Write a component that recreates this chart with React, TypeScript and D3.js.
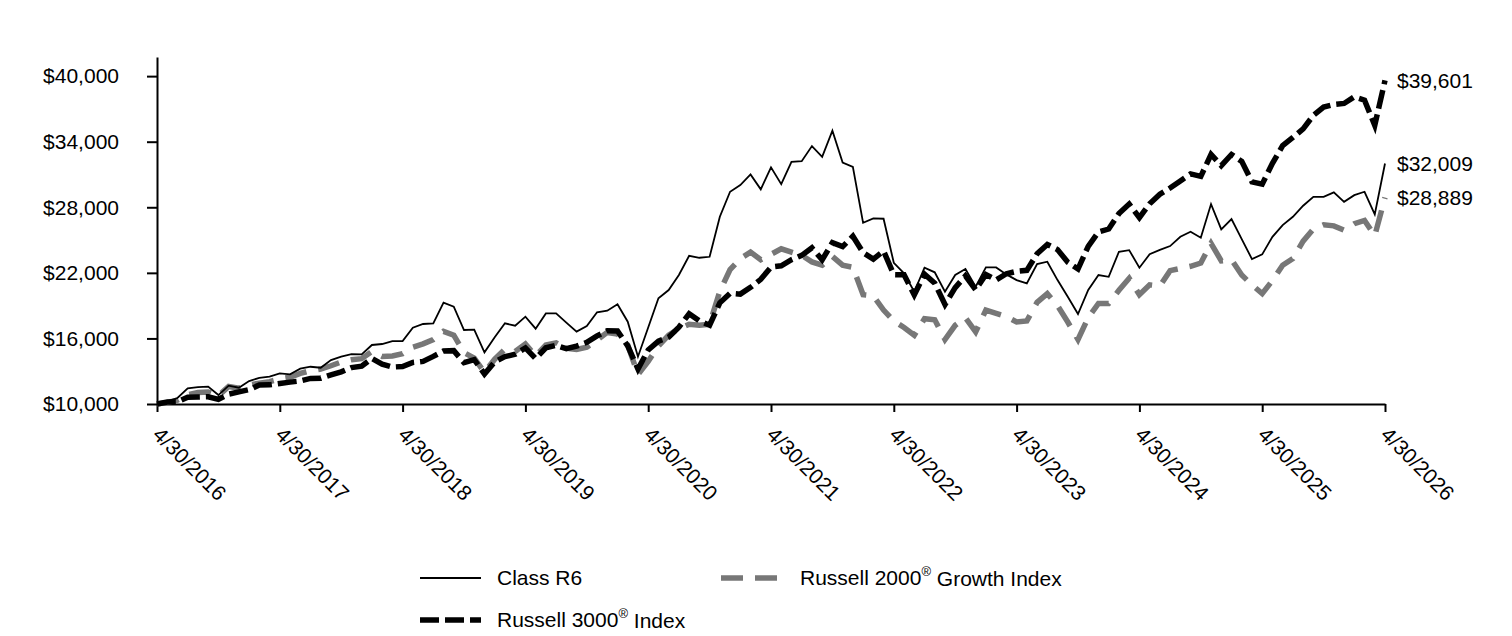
import React, { useEffect, useRef } from 'react';
import * as d3 from 'd3';

const WIDTH = 1512;
const HEIGHT = 636;
const margin = { top: 57, right: 127, bottom: 232, left: 157 };
const FONT = "'Liberation Sans', Arial, Helvetica, sans-serif";

// month-end values of a $10,000 investment, 4/30/2016 .. 4/30/2026
const classR6 = [
  10000, 10250, 10550, 11430, 11550, 11590, 10820, 11680, 11490, 12100, 12400, 12500,
  12800, 12710, 13230, 13410, 13320, 14020, 14330, 14570, 14540, 15400, 15490, 15760,
  15760, 16980, 17320, 17380, 19270, 18900, 16770, 16800, 14730, 16100, 17380, 17160,
  17990, 16890, 18290, 18290, 17440, 16620, 17130, 18390, 18540, 19120, 17530, 14330,
  17000, 19670, 20430, 21800, 23560, 23380, 23470, 27130, 29420, 30030, 31010, 29640,
  31650, 30120, 32160, 32220, 33600, 32620, 35000, 32100, 31700, 26580, 26980, 26950,
  22920, 21950, 20270, 22470, 22050, 20270, 21800, 22350, 20730, 22500, 22500, 21860,
  21340, 21040, 22800, 23020, 21340, 19810, 18230, 20430, 21800, 21640, 23930, 24080,
  22470, 23700, 24100, 24450, 25300, 25760, 25210, 28290, 25980, 26920, 25090, 23260,
  23690, 25300, 26370, 27130, 28140, 28960, 28960, 29360, 28500, 29110, 29420, 27350,
  32009,
];

const russell2000Growth = [
  10000, 10150, 10350, 10850, 11050, 11100, 10750, 11600, 11450, 11750, 11900, 12050,
  12300, 12450, 12800, 13050, 13200, 13500, 13850, 14050, 14150, 14800, 14350, 14400,
  14600, 15200, 15500, 15900, 16650, 16300, 14700, 14200, 12900, 14100, 15000, 14800,
  15500, 14400, 15400, 15600, 15100, 15000, 15200, 15850, 16550, 16400, 15400, 12700,
  13900, 15300, 16300, 16900, 17300, 17200, 17300, 20300, 22300, 23300, 23900, 23200,
  23700, 24200, 23900, 23600, 23000, 22700, 23500, 22700, 22500, 20000, 19900, 18600,
  17600, 17000, 16300, 17800, 17700, 15900, 17200, 17900, 16600, 18600, 18300, 18000,
  17500, 17600, 19300, 20100, 19000, 17500, 15900, 17900, 19200, 19200, 20400, 21500,
  20000, 20900, 20800, 22200, 22400, 22600, 22900, 24700, 23100, 23200, 21800, 20900,
  20100, 21300, 22700, 23300, 24900, 26000, 26400, 26300, 25900, 26500, 26800, 25400,
  28889,
];

const russell3000 = [
  10000, 10180, 10200, 10610, 10640, 10660, 10430, 10900, 11110, 11320, 11740, 11750,
  11880, 12000, 12110, 12340, 12360, 12660, 12940, 13330, 13460, 14170, 13650, 13380,
  13430, 13800, 13900, 14360, 14850, 14880, 13780, 14060, 12750, 13850, 14330, 14550,
  15130, 14150, 15140, 15370, 15060, 15300, 15640, 16230, 16700, 16680, 15310, 13200,
  14940, 15750, 16110, 17030, 18260, 17600, 17210, 19260, 20130, 20050, 20670, 21410,
  22530, 22640, 23200, 23600, 24290, 23190, 24770, 24400, 25350, 23850, 23250, 24000,
  21840, 21820, 19990, 21870, 21060, 19100, 20650, 21720, 20440, 21850, 21350, 21920,
  22140, 22230, 23740, 24600, 24130, 22970, 22350, 24430, 25730, 26010, 27420, 28300,
  27050, 28320, 29200, 29760, 30410, 31050, 30830, 32830, 31810, 32830, 32200, 30330,
  30120, 32020, 33650, 34390, 35180, 36410, 37170, 37400, 37500, 38100, 37800, 35500,
  39601,
];

const xTickLabels = [
  '4/30/2016', '4/30/2017', '4/30/2018', '4/30/2019', '4/30/2020', '4/30/2021',
  '4/30/2022', '4/30/2023', '4/30/2024', '4/30/2025', '4/30/2026',
];
const yTicks = [10000, 16000, 22000, 28000, 34000, 40000];

const seriesList = [
  { name: 'Russell 2000', sup: '®', rest: ' Growth Index', values: russell2000Growth, color: '#777777', width: 5.5, dash: '22,12' },
  { name: 'Russell 3000', sup: '®', rest: ' Index', values: russell3000, color: '#000000', width: 5.5, dash: '19,6' },
  { name: 'Class R6', sup: '', rest: '', values: classR6, color: '#000000', width: 1.8, dash: null },
];

// legend slots: [sample x, text x, y]
const legendSlots: Record<string, [number, number, number]> = {
  'Class R6': [420, 497, 578],
  'Russell 2000': [721, 800, 578],
  'Russell 3000': [420, 497, 620],
};

const LineChart = () => {
  const ref = useRef<SVGSVGElement | null>(null);

  useEffect(() => {
    const svg = d3.select(ref.current);
    svg.selectAll('*').remove();

    const months = classR6.length - 1;
    const xScale = d3.scaleLinear().domain([0, months]).range([margin.left, WIDTH - margin.right]);
    const yScale = d3.scaleLinear().domain([10000, 41750]).range([HEIGHT - margin.bottom, margin.top]);

    // axes
    const yAxis = d3.axisLeft(yScale)
      .tickValues(yTicks)
      .tickSizeInner(10)
      .tickSizeOuter(0)
      .tickPadding(28)
      .tickFormat(d => d3.format('$,')(d as number));

    const gy = svg.append('g')
      .attr('transform', `translate(${margin.left},0)`)
      .call(yAxis);
    gy.selectAll('text').attr('font-size', 21).attr('font-family', FONT).attr('fill', '#000');

    const xAxis = d3.axisBottom(xScale)
      .tickValues(xTickLabels.map((_, i) => i * 12))
      .tickSizeInner(8)
      .tickSizeOuter(0)
      .tickFormat((_, i) => xTickLabels[i]);

    const gx = svg.append('g')
      .attr('transform', `translate(0,${HEIGHT - margin.bottom})`)
      .call(xAxis);
    gx.selectAll('text')
      .attr('font-size', 21)
      .attr('font-family', FONT)
      .attr('fill', '#000')
      .attr('text-anchor', 'start')
      .attr('x', 0)
      .attr('y', 0)
      .attr('dy', 0)
      .attr('transform', 'translate(-6,32) rotate(45)');

    [gx, gy].forEach(g => {
      g.selectAll('path, line').attr('stroke', '#000').attr('stroke-width', 2);
    });

    // series lines
    const line = d3.line<number>()
      .x((_, i) => xScale(i))
      .y(d => yScale(d));

    seriesList.forEach(s => {
      svg.append('path')
        .datum(s.values)
        .attr('fill', 'none')
        .attr('stroke', s.color)
        .attr('stroke-width', s.width)
        .attr('stroke-dasharray', s.dash)
        .attr('stroke-linejoin', 'miter')
        .attr('d', line);
    });

    // ending values
    seriesList.forEach(s => {
      const last = s.values[s.values.length - 1];
      svg.append('text')
        .attr('x', xScale(months) + 12)
        .attr('y', yScale(last))
        .attr('dy', '0.35em')
        .attr('font-size', 21)
        .attr('font-family', FONT)
        .text(d3.format('$,')(last));
    });

    // legend
    const legend = svg.append('g');
    seriesList.forEach(s => {
      const [sx, tx, ly] = legendSlots[s.name];
      legend.append('line')
        .attr('x1', sx).attr('x2', sx + 61)
        .attr('y1', ly).attr('y2', ly)
        .attr('stroke', s.color)
        .attr('stroke-width', s.width)
        .attr('stroke-dasharray', s.dash);

      const t = legend.append('text')
        .attr('x', tx)
        .attr('y', ly)
        .attr('dy', '0.35em')
        .attr('font-size', 21)
        .attr('font-family', FONT);
      t.append('tspan').text(s.name);
      if (s.sup) {
        t.append('tspan').attr('font-size', 13).attr('dy', '-0.7em').text(s.sup);
        t.append('tspan').attr('dy', '0.45em').text(s.rest);
      }
    });
  }, []);

  return <svg ref={ref} width={WIDTH} height={HEIGHT} style={{ position: 'absolute', left: 0, top: 0, background: '#fff' }} />;
};

export default function App() {
  return <LineChart />;
}
